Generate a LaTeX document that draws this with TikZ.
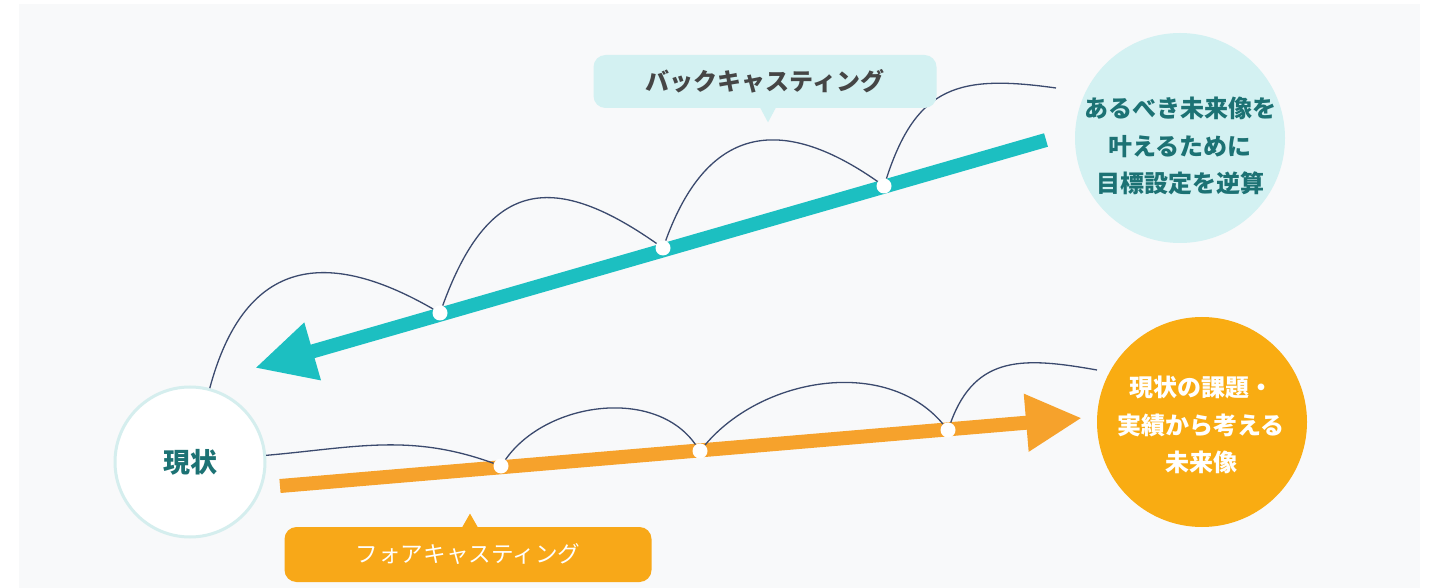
\documentclass[tikz,border=0pt]{standalone}
\usepackage{fontspec}
\newfontfamily\jpfont{Noto Sans CJK JP}
\usepackage{tikz}
\usetikzlibrary{arrows.meta}
\definecolor{panelgray}{HTML}{F8F9FA}
\definecolor{barteal}{HTML}{1CBFC1}
\definecolor{lightteal}{HTML}{D3F1F2}
\definecolor{ringteal}{HTML}{D5EEEE}
\definecolor{textteal}{HTML}{1C7274}
\definecolor{barorange}{HTML}{F6A22C}
\definecolor{circorange}{HTML}{F9AC12}
\definecolor{bubbleorange}{HTML}{F8A818}
\definecolor{arcnavy}{HTML}{3B4A6E}
\definecolor{bubbletext}{HTML}{454545}

\begin{document}
\begin{tikzpicture}[x=0.5pt,y=0.5pt]
        \useasboundingbox (0,0) rectangle (1430,-588);
        \fill[white] (0,0) rectangle (1430,-588);
        \fill[panelgray] (19,-4) rectangle (1420,-588);

        \coordinate (T0) at (1046,-140);
        \coordinate (T4) at (255,-368);
        \coordinate (Tend) at (1056,-88);
        \coordinate (F0) at (280,-486);
        \coordinate (F4) at (1082,-418);
        \coordinate (Fend) at (1097,-370);

        \draw[line width=7pt, barteal, -{Triangle[length=30pt,width=28pt]}] (T0) -- (T4);
        \draw[line width=7pt, barorange, -{Triangle[length=28pt,width=27pt]}] (F0) -- (F4);

        \begin{scope}[
            every node/.style={shape=circle,inner sep=0pt,align=center}
        ]
            \node[draw=ringteal,line width=1.5pt,fill=white,minimum size=75pt,text=textteal,
                font=\jpfont\bfseries\fontsize{13.5pt}{16pt}\selectfont] (now) at (190,-462) {現状};
            \node[fill=lightteal,minimum size=105pt] (ideal) at (1180,-138) {};
            \node[text=textteal,font=\jpfont\bfseries\fontsize{12pt}{18.8pt}\selectfont] (idealtext) at (1180,-146)
                {あるべき未来像を\\叶えるために\\目標設定を逆算};
            \node[fill=circorange,minimum size=105pt] (trend) at (1202,-422) {};
            \node[text=white,font=\jpfont\bfseries\fontsize{12pt}{18.8pt}\selectfont] (trendtext) at (1201,-425)
                {現状の課題・\\実績から考える\\未来像};
        \end{scope}
        \begin{scope}[
            every node/.style={shape=circle,fill=white,minimum size=7.5pt,inner sep=0pt}
        ]
            \node (T1) at (884,-186) {};
            \node (T2) at (663,-248) {};
            \node (T3) at (440,-313) {};

            \node (F1) at (501,-466) {};
            \node (F2) at (700,-451) {};
            \node (F3) at (948,-430) {};
        \end{scope}
        \begin{scope}[
            every edge/.style={draw=arcnavy,line width=0.65pt}
        ]
            \path [-] (Tend) edge[out=172,in=72,looseness=1.3] (T1);
            \path [-] (T1) edge[out=145,in=70,looseness=1.4] (T2);
            \path [-] (T2) edge[out=145,in=70,looseness=1.5] (T3);
            \path [-] (T3) edge[out=150,in=75,looseness=1.4] (now);

            \path [-] (now) edge[out=5,in=160] (F1);
            \path [-] (F1) edge[out=55,in=125,looseness=0.95] (F2);
            \path [-] (F2) edge[out=50,in=130,looseness=0.95] (F3);
            \path [-] (F3) edge[out=70,in=170,looseness=1.2] (Fend);
        \end{scope}
        \begin{scope}[
            every node/.style={rounded corners=6pt,inner sep=0pt}
        ]
            \node[fill=lightteal,minimum width=171.5pt,minimum height=26.5pt,text=bubbletext,
                font=\jpfont\bfseries\fontsize{12pt}{14pt}\selectfont] (back) at (765,-81.5) {バックキャスティング};
            \node[fill=bubbleorange,minimum width=183.5pt,minimum height=27.5pt,text=white,
                font=\jpfont\fontsize{11.3pt}{14pt}\selectfont] (fore) at (468,-554.5) {フォアキャスティング};
        \end{scope}
        \fill[lightteal] ([xshift=-2.5pt,yshift=0.5pt]back.south) -- ([xshift=1.5pt,yshift=-7pt]back.south)
            -- ([xshift=5.5pt,yshift=0.5pt]back.south) -- cycle;
        \fill[bubbleorange] ([xshift=-3pt,yshift=-0.5pt]fore.north) -- ([xshift=1pt,yshift=6.5pt]fore.north)
            -- ([xshift=5pt,yshift=-0.5pt]fore.north) -- cycle;
\end{tikzpicture}
\end{document}
